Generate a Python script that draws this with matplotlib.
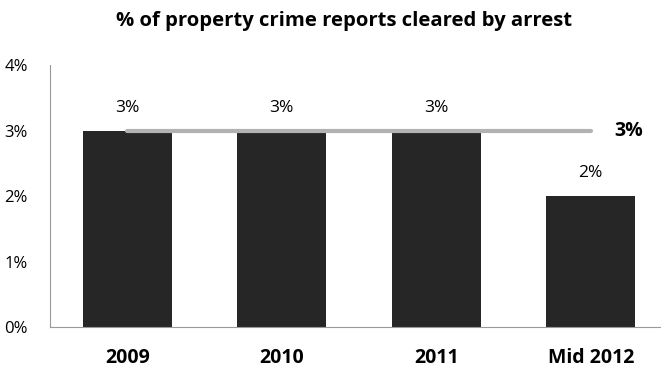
import matplotlib.pyplot as plt
from matplotlib.ticker import FuncFormatter

# datos
categorias = ["2009", "2010", "2011", "Mid 2012"]
valores = [3, 3, 3, 2]
etiquetas = ["3%", "3%", "3%", "2%"]
promedio = 3

plt.rcParams['font.family'] = ['Open Sans', 'DejaVu Sans']

fig = plt.figure(figsize=(6.61, 3.70), dpi=100)
ax = fig.add_axes([0.0756, 0.1162, 0.935, 0.708])

x = list(range(len(categorias)))
ax.bar(x, valores, width=0.575, color="#262626", zorder=2)
for xi, v, t in zip(x, valores, etiquetas):
    ax.text(xi, v + 0.35, t, ha="center", va="center", fontsize=12.5)

# linea de promedio
ax.plot([x[0], x[-1]], [promedio, promedio], color="#b2b2b2", lw=3,
        solid_capstyle="round", zorder=3)
ax.text(x[-1] + 0.15, promedio, f"{promedio}%", ha="left", va="center",
        fontsize=14, fontweight="bold")

ax.set_xlim(-0.5, 3.5)
ax.set_ylim(0, 4)
ax.set_yticks([0, 1, 2, 3, 4])
ax.yaxis.set_major_formatter(FuncFormatter(lambda v, p: f"{v:.0f}%"))
ax.set_xticks(x)
ax.set_xticklabels(categorias, fontweight="bold", fontsize=14)
ax.tick_params(axis="y", length=0, pad=16, labelsize=12)
ax.tick_params(axis="x", length=0, pad=15)

for s in ["top", "right"]:
    ax.spines[s].set_visible(False)
for s in ["left", "bottom"]:
    ax.spines[s].set_color("#999999")

fig.text(0.52, 0.943, "% of property crime reports cleared by arrest",
         ha="center", va="center", fontsize=14.6, fontweight="bold")

plt.savefig("out.png", dpi=100)
